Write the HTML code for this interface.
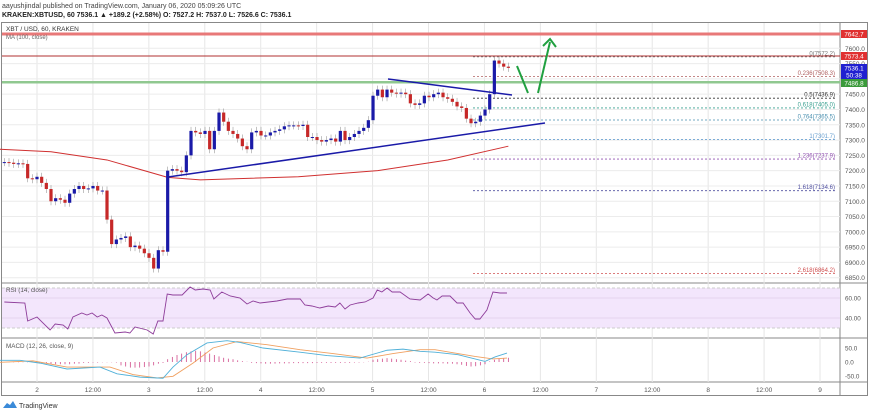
<!DOCTYPE html>
<html><head><meta charset="utf-8"><style>
body{margin:0;background:#fff;width:870px;height:413px;overflow:hidden;font-family:"Liberation Sans",sans-serif}
svg{position:absolute;left:0;top:0}
text{font-family:"Liberation Sans",sans-serif}
</style></head><body>
<svg id="c" width="870" height="413"></svg>
<script>
const closes=[7228,7226,7222,7224,7222,7175,7172,7180,7160,7140,7100,7110,7105,7095,7125,7140,7150,7140,7142,7150,7135,7135,7040,6960,6975,6980,6985,6950,6955,6945,6930,6915,6880,6940,6935,7200,7205,7200,7195,7250,7330,7325,7320,7330,7270,7330,7390,7360,7330,7320,7305,7280,7270,7325,7330,7315,7315,7325,7330,7335,7345,7348,7348,7346,7350,7310,7310,7300,7295,7300,7305,7295,7330,7300,7310,7320,7330,7340,7365,7445,7465,7440,7465,7455,7452,7455,7450,7420,7415,7420,7445,7440,7450,7455,7440,7435,7425,7410,7405,7370,7355,7360,7380,7400,7450,7560,7550,7540,7536];
const maHours=[-1,10,22,35,42,63,80,95,108];
const maVals=[7270,7262,7235,7178,7170,7180,7200,7235,7280];
const rsiHours=[0,4.4,5,7,9.8,10.9,12.6,13.6,14.7,16.6,17.7,18.8,19.9,20.9,22,23.7,25.9,26.9,28,30.6,31.9,32.9,34,34.9,36.1,38.1,39.8,40.9,42.6,44.1,44.9,46.6,48.4,50.5,52,53.3,54.8,58.4,60.6,63.4,64.4,65.9,67.6,69.4,70.9,71.9,73,74.1,75.8,77.3,79,79.9,80.9,82,83.1,84.8,86.9,89.1,90.8,91.9,92.7,93.8,95.5,97,98.3,99.8,100.9,101.9,103.4,104.7,106.2,107.7];
const rsiVals=[56,55,37,41,28,34,33,29,41,45,43,45,41,43,40,25,26,25,31,28,24,37,37,64,63,63,71,68,69,68,59,66,62,60,54,57,55,57,59,59,53,52,50,52,51,55,49,53,55,56,60,68,66,70,66,66,59,58,64,60,58,62,62,55,55,45,39,39,48,66,65,65];
const macdHours=[0,20,40,67,100,117,140,163,173,187,207,227,240,263,300,327,360,387,403,420,435,458,485,495,507];
const macdVals=[6,6,-4,-25,-18,-42,-54,-58,-18,26,68,76,70,50,35,23,14,42,46,38,35,26,2,18,32];
const sigHours=[0,33,67,110,133,157,173,193,213,237,267,300,333,367,393,420,435,455,475,493,507];
const sigVals=[-1,4,-18,-18,-45,-57,-51,-4,50,73,62,44,30,14,30,44,44,32,20,11,14];
const hist=[-1,-1,-1,-1,-1,-1,-1,-2,-3,-5,-8,-8,-8,-8,-8,-6,-6,-3,-3,-2,-2,-1,-1,-1,-2,-12,-16,-20,-20,-20,-18,-16,-12,-6,-3,10,18,25,30,35,38,40,38,34,30,25,20,15,12,10,6,3,1,-3,-4,-5,-6,-6,-6,-5,-5,-5,-4,-4,-4,-4,-4,-3,-3,-3,-3,-3,-3,-3,-3,-2,-2,-1,1,8,10,12,14,12,10,8,5,3,-2,-3,-3,-4,-5,-5,-5,-6,-6,-8,-10,-14,-16,-15,-12,-8,2,8,12,14,15];
const priceTicks=[7600,7550,7500,7450,7400,7350,7300,7250,7200,7150,7100,7050,7000,6950,6900,6850];
const fibLabels=["0(7572.2)","0.236(7508.3)","0.5(7436.9)","0.618(7405.0)","0.764(7365.5)","1(7301.7)","1.236(7237.9)","1.618(7134.6)","2.618(6864.2)"];
const fibPrices=[7572.2,7508.3,7436.9,7405.0,7365.5,7301.7,7237.9,7134.6,6864.2];
const fibColors=["#777","#b06060","#333","#3aa090","#4a90b0","#6aa0d0","#9050b0","#5050a0","#d05050"];
const dayLabels=["2","12:00","3","12:00","4","12:00","5","12:00","6","12:00","7","12:00","8","12:00","9"];

const NS="http://www.w3.org/2000/svg",S=document.getElementById('c');
function el(t,a,p){const e=document.createElementNS(NS,t);for(const k in a)e.setAttribute(k,a[k]);(p||S).appendChild(e);return e;}
function tx(s,a){const e=el('text',a);e.textContent=s;return e;}
const xH=h=>37+(h-7)*4.667;
const yP=p=>48.3+(7600-p)*0.3059;
const yR=v=>358-v;
const yM=v=>362-v*0.28;
let e=tx("aayushjindal published on TradingView.com, January 06, 2020 05:09:26 UTC",{x:2,y:8,'font-size':7,fill:'#444'});

e=tx("KRAKEN:XBTUSD, 60  7536.1 ▲ +189.2 (+2.58%) O: 7527.2 H: 7537.0 L: 7526.6 C: 7536.1",{x:2,y:17,'font-size':7,fill:'#222','font-weight':'bold'});

el('rect',{x:1.5,y:22.5,width:866,height:373,fill:'none',stroke:'#888'});
el('line',{x1:840,y1:22,x2:840,y2:396,stroke:'#888'});
[283,338,382].forEach(y=>el('line',{x1:2,y1:y,x2:868,y2:y,stroke:'#888'}));
dayLabels.forEach((d,i)=>{const x=37+i*55.93;
 el('line',{x1:x,y1:23,x2:x,y2:382,stroke:'#e6e6e6'});
 const t=tx(d,{x:x,y:392,'font-size':6.5,fill:'#555','text-anchor':'middle'});
 });
priceTicks.forEach(p=>{const y=yP(p);
 el('line',{x1:2,y1:y,x2:840,y2:y,stroke:'#ececec'});
 const t=tx(p.toFixed(1),{x:845,y:y+2.5,'font-size':6.5,fill:'#555'});
 });
el('rect',{x:2,y:32.5,width:838,height:3,fill:'#e87878'});
el('line',{x1:2,y1:56,x2:840,y2:56,stroke:'#b03030','stroke-width':1});
el('rect',{x:2,y:81,width:838,height:2.5,fill:'#90c890'});
tx("XBT / USD, 60, KRAKEN",{x:6,y:31,'font-size':6.5,fill:'#333'});
tx("MA (100, close)",{x:6,y:39,'font-size':6,fill:'#666'});
fibPrices.forEach((p,i)=>{const y=yP(p);
 const l=el('line',{x1:473,y1:y,x2:836,y2:y,stroke:fibColors[i],'stroke-dasharray':'2,2','stroke-width':0.8});
 
 tx(fibLabels[i],{x:835,y:y-1.5,'font-size':6,fill:fibColors[i],'text-anchor':'end'});});
let pts=maHours.map((h,i)=>xH(h)+','+yP(maVals[i])).join(' ');
e=el('polyline',{points:pts,fill:'none',stroke:'#d03030','stroke-width':1});

closes.forEach((c,i)=>{const o=i?closes[i-1]:c,x=xH(i);const up=c>=o;const col=up?'#1a1aa8':'#c62828';
 const top=yP(Math.max(o,c)),bot=yP(Math.min(o,c));
 const g=el('g',{});
 
 el('line',{x1:x,y1:top-4,x2:x,y2:bot+4,stroke:'#999','stroke-width':0.6},g);
 el('rect',{x:x-1.6,y:top,width:3.2,height:Math.max(1,bot-top),fill:col},g);});
el('line',{x1:168,y1:177,x2:545,y2:123,stroke:'#1a1aa8','stroke-width':1.5});
el('line',{x1:388,y1:79,x2:512,y2:95,stroke:'#1a1aa8','stroke-width':1.5});
el('polyline',{points:'517,66 528,93',fill:'none',stroke:'#20a040','stroke-width':2});
el('polyline',{points:'538,93 550,42',fill:'none',stroke:'#20a040','stroke-width':2});
el('polyline',{points:'543,46 550,39 556,47',fill:'none',stroke:'#20a040','stroke-width':2});
[[34,'7642.7','#e03030'],[56,'7573.4','#e03030'],[68,'7536.1','#2020d0'],[75,'50:38','#2020d0'],[83,'7486.8','#3a9a3a']].forEach(t=>{
 const r=el('rect',{x:841,y:t[0]-4,width:26,height:8,fill:t[2]});
 
 tx(t[1],{x:854,y:t[0]+2.5,'font-size':6.3,fill:'#fff','text-anchor':'middle'});});
el('rect',{x:2,y:yR(70),width:838,height:40,fill:'#f3e6fc'});
[70,30].forEach(v=>el('line',{x1:2,y1:yR(v),x2:840,y2:yR(v),stroke:'#ccc','stroke-dasharray':'3,2'}));
[60,40].forEach(v=>{el('line',{x1:2,y1:yR(v),x2:840,y2:yR(v),stroke:'#e4d4ee'});tx(v.toFixed(2),{x:845,y:yR(v)+2.5,'font-size':6.3,fill:'#555'});});
tx("RSI (14, close)",{x:6,y:292,'font-size':6.3,fill:'#555'});
e=el('polyline',{points:rsiHours.map((h,i)=>xH(h)+','+yR(rsiVals[i])).join(' '),fill:'none',stroke:'#8e3d9a','stroke-width':0.9});

[50,0,-50].forEach(v=>tx(v.toFixed(1),{x:845,y:yM(v)+2.5,'font-size':6.3,fill:'#555'}));
tx("MACD (12, 26, close, 9)",{x:6,y:348,'font-size':6.3,fill:'#555'});
hist.forEach((v,i)=>{const b=el('line',{x1:xH(i),y1:yM(0),x2:xH(i),y2:yM(v),stroke:'#d04a8a','stroke-width':0.8});
 });
e=el('polyline',{points:sigHours.map((x,i)=>x+','+yM(sigVals[i])).join(' '),fill:'none',stroke:'#f0a060','stroke-width':0.9});

e=el('polyline',{points:macdHours.map((x,i)=>x+','+yM(macdVals[i])).join(' '),fill:'none',stroke:'#50b0d8','stroke-width':0.9});

el('path',{d:'M3,408 l4,-5 3,2 3,-4 4,7z',fill:'#3a8ad8'});
e=tx("TradingView",{x:19,y:408,'font-size':7,fill:'#333'});

</script>
</body></html>
